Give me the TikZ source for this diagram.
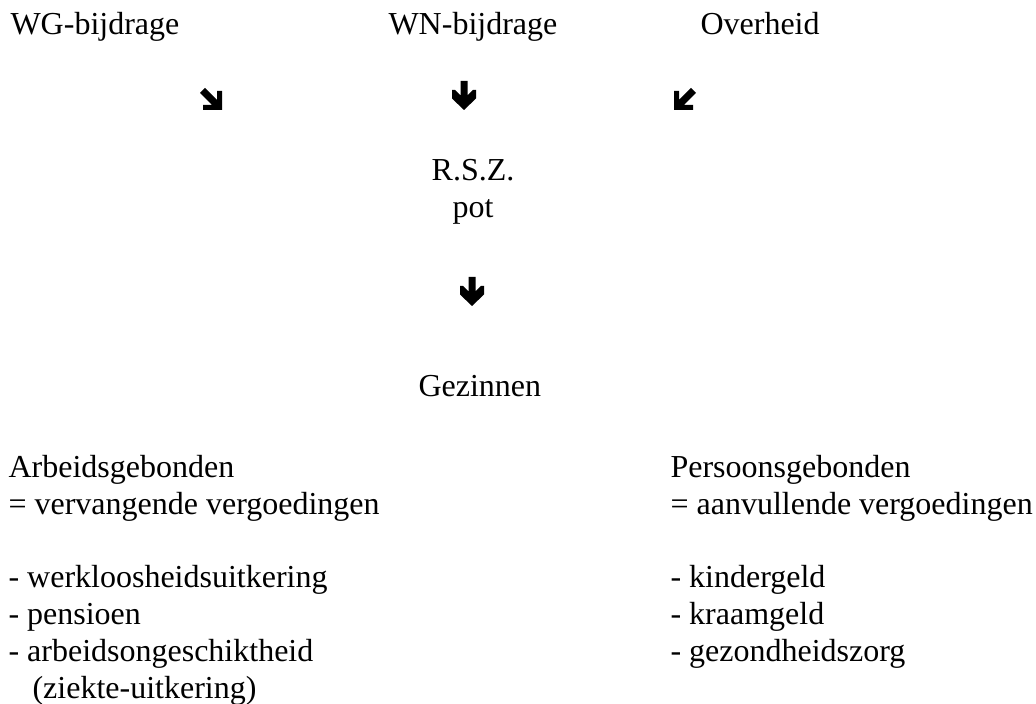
\documentclass[tikz,border=0pt]{standalone}
\usepackage{fontspec}
\setmainfont{Liberation Serif}
\usetikzlibrary{positioning}

\begin{document}
\begin{tikzpicture}[
    x=0.375pt, y=-0.375pt,
    lbl/.style={inner sep=0pt, anchor=base west, align=left,
                font=\fontsize{12}{13.875}\selectfont},
    searr/.pic={\fill (0,5) -- (5,0) -- (17,12) -- (17,3) -- (22,3) -- (22,22)
                -- (3,22) -- (3,17) -- (12,17) -- cycle;},
    downarr/.pic={\fill (8.5,0) -- (15.5,0) -- (15.5,14.5) -- (21,9) -- (24,9) -- (24,17.5)
                -- (12,29) -- (0,17.5) -- (0,9) -- (3,9) -- (8.5,14.5) -- cycle;}
]
\useasboundingbox (0,0) rectangle (1036,704);

% bijdragen
\node[lbl] (wg) at (10,35) {WG-bijdrage};
\node[lbl] (wn) at (388,35) {WN-bijdrage};
\node[lbl] (overheid) at (700,35) {Overheid};

\pic at (200,88) {searr};
\pic at (452,81) {downarr};
\pic[xscale=-1] at (696,88) {searr};

% pot en gezinnen (multi-line nodes: base = last line)
\node[lbl, align=center, anchor=base] (rsz) at (473,218) {R.S.Z.\\pot};
\pic at (460,277) {downarr};
\node[lbl] (gezin) at (418,397) {Gezinnen};

% uitkeringen
\node[lbl] (arbeid) at (8,515) {Arbeidsgebonden\\= vervangende vergoedingen};
\node[lbl] (arblijst) at (8,699) {- werkloosheidsuitkering\\- pensioen\\- arbeidsongeschiktheid\\\hspace*{9pt}(ziekte-uitkering)};
\node[lbl] (persoon) at (670,515) {Persoonsgebonden\\= aanvullende vergoedingen};
\node[lbl] (perslijst) at (670,662) {- kindergeld\\- kraamgeld\\- gezondheidszorg};
\end{tikzpicture}
\end{document}
